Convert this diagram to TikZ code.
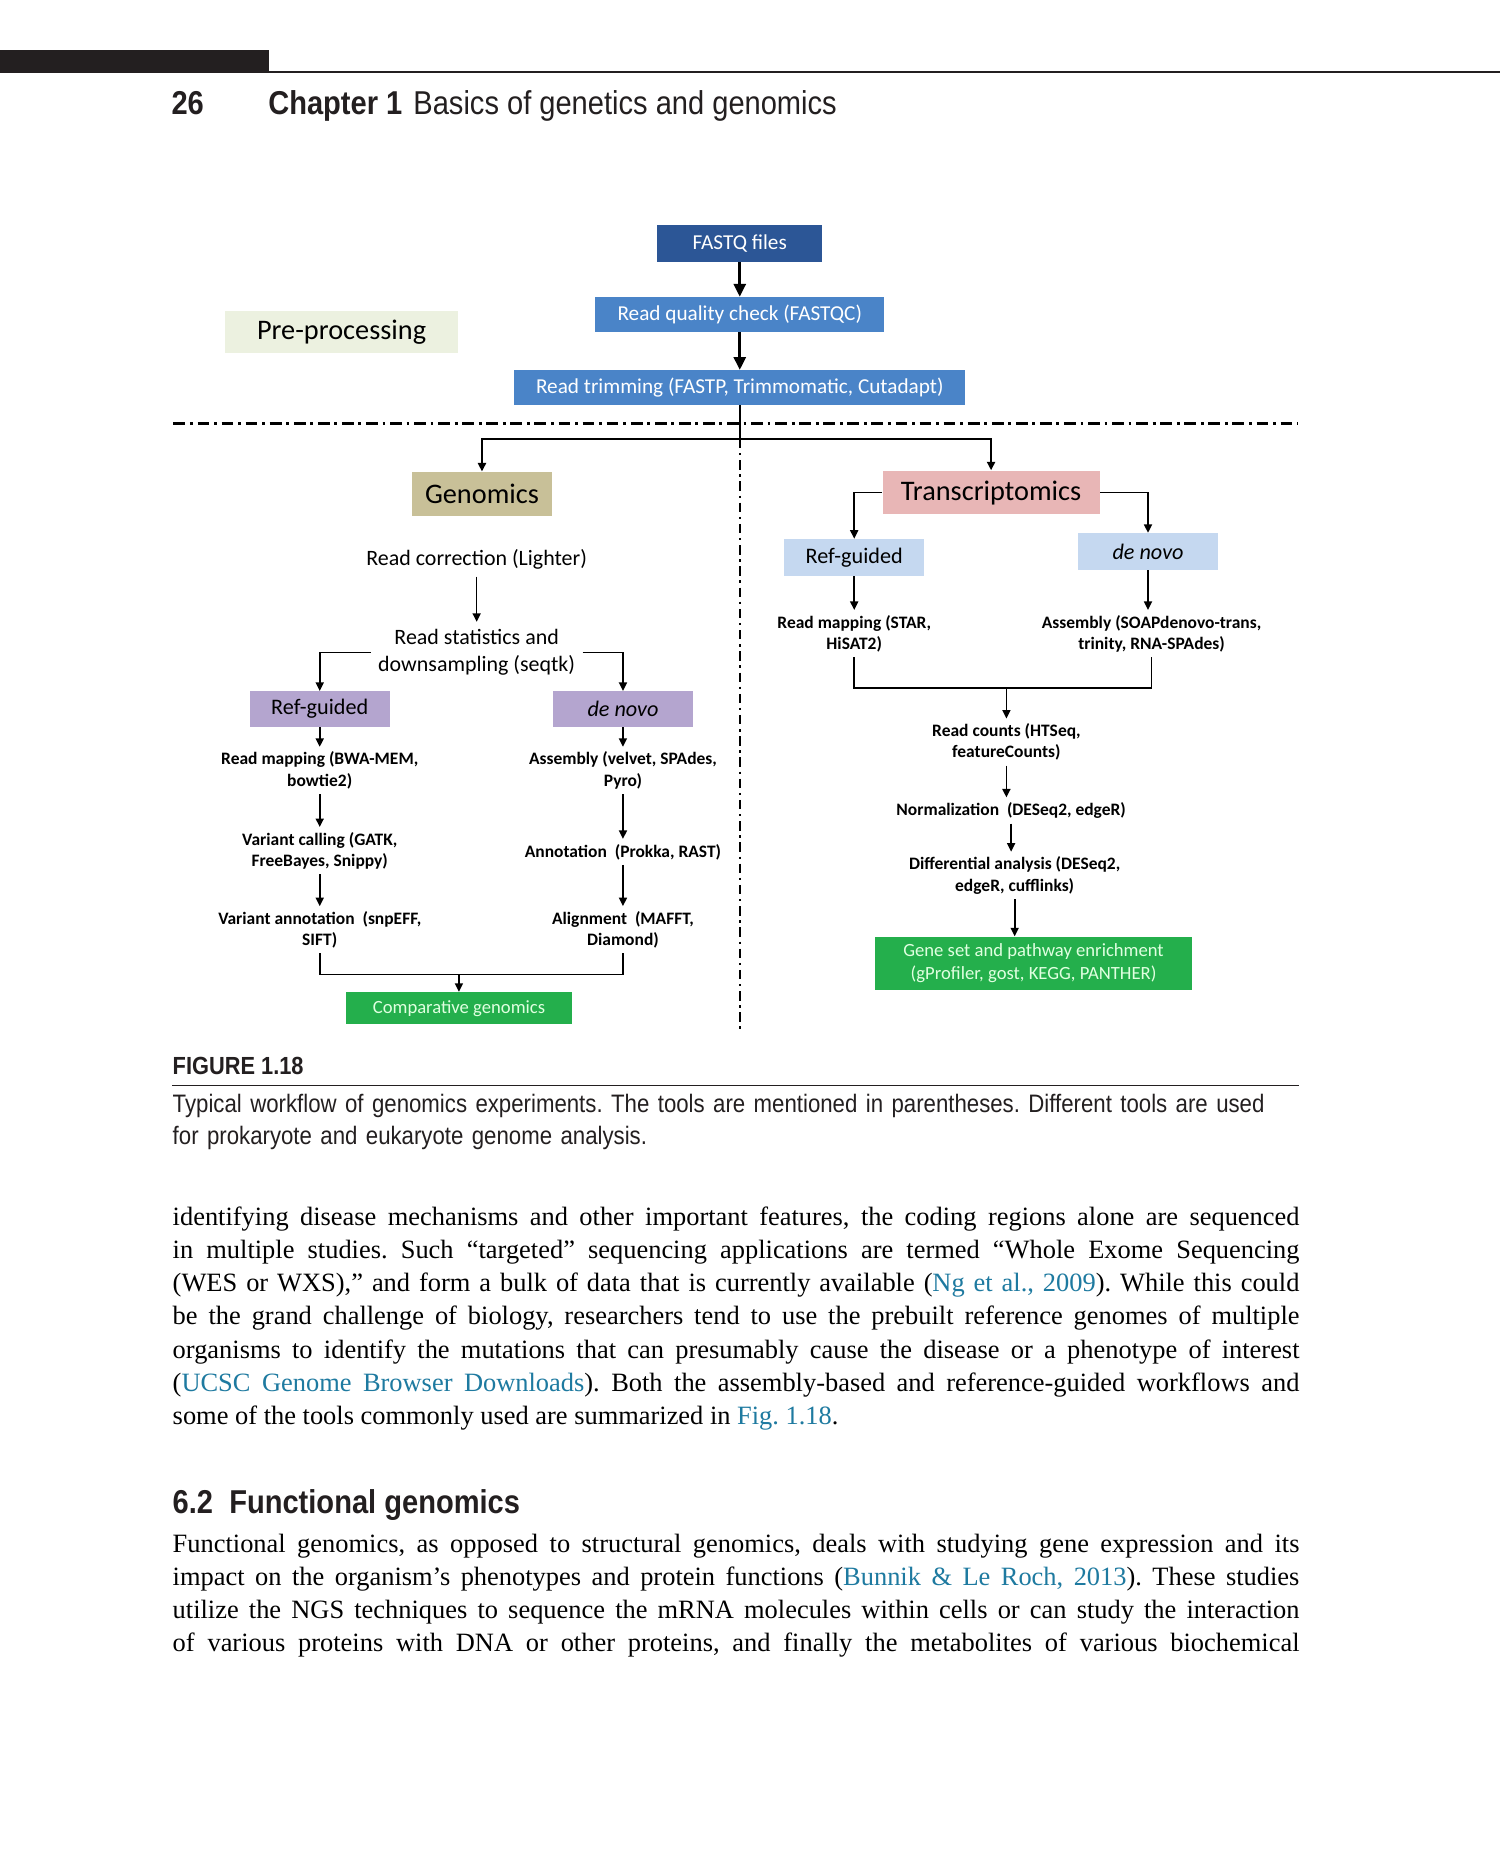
\documentclass[tikz,border=0pt]{standalone}
\usepackage{fontspec}
\setmainfont{Liberation Serif}
\newfontfamily\figfont{Carlito}
\newfontfamily\headfont[FakeStretch=0.88]{Liberation Sans}
\usetikzlibrary{arrows.meta, calc}
\frenchspacing

\definecolor{fastqblue}{RGB}{44,86,150}
\definecolor{readblue}{RGB}{74,132,200}
\definecolor{preback}{RGB}{236,241,224}
\definecolor{genomicstan}{RGB}{200,192,152}
\definecolor{transpink}{RGB}{232,182,182}
\definecolor{routepurple}{RGB}{180,165,207}
\definecolor{routeblue}{RGB}{197,216,240}
\definecolor{endgreen}{RGB}{36,175,76}
\definecolor{linkblue}{RGB}{30,122,160}
\definecolor{inkgray}{RGB}{35,31,32}

\newcommand{\reflink}[1]{\textcolor{linkblue}{#1}}

\tikzset{
  box/.style = {
    inner sep=0pt,
    align=center,
    font=\figfont\fontsize{9}{11}\selectfont,
  },
  fastqbox/.style = {
    box,
    fill=fastqblue,
    text=white,
    minimum width=70pt,
    minimum height=15.5pt,
  },
  readbox/.style = {
    box,
    fill=readblue,
    text=white,
    minimum height=14.5pt,
  },
  prebox/.style = {
    box,
    fill=preback,
    minimum width=98.5pt,
    minimum height=17.5pt,
    font=\figfont\fontsize{12}{14}\selectfont,
  },
  omicsbox/.style = {
    box,
    minimum height=18.5pt,
    font=\figfont\fontsize{12}{14}\selectfont,
  },
  routebox/.style = {
    box,
    minimum width=59.5pt,
    minimum height=15pt,
    font=\figfont\fontsize{9.4}{11}\selectfont,
  },
  endbox/.style = {
    box,
    fill=endgreen,
    text=white!80!green!60!white,
    font=\figfont\fontsize{7.9}{9.6}\selectfont,
  },
  task/.style = {
    align=center,
    inner sep=2pt,
    font=\figfont\bfseries\fontsize{7.4}{9}\selectfont,
  },
  bigtask/.style = {
    align=center,
    inner sep=3pt,
    font=\figfont\fontsize{9.3}{11.5}\selectfont,
  },
  link/.style = {
    line width=0.7pt,
  },
  flow/.style = {
    -{Triangle[length=3.6pt, width=3.4pt]},
    line width=0.7pt,
  },
  bigflow/.style = {
    -{Triangle[length=5.5pt, width=5pt]},
    line width=1.4pt,
  },
  sepline/.style = {
    line width=1.2pt,
    dash pattern=on 5pt off 2pt on 1.2pt off 2pt,
  },
  vsep/.style = {
    line width=0.7pt,
    dash pattern=on 4pt off 2pt on 1pt off 2pt,
  },
  headtext/.style = {
    anchor=base west,
    inner sep=0pt,
    text=inkgray,
  },
  bodytext/.style = {
    headtext,
    text=black,
    text width=477.5pt,
    align=justify,
    font=\fontsize{11.2}{14}\selectfont,
  },
}

\begin{document}
\begin{tikzpicture}[x=0.5pt, y=-0.5pt]

\fill[white] (0,0) rectangle (1271,1568);

% running head
\fill[inkgray] (0,42) rectangle (228,62);
\draw[inkgray, line width=1pt] (228,61) -- (1271,61);
\node[headtext, font=\headfont\bfseries\fontsize{14}{16}\selectfont] (pagenum) at (145,97) {26};
\node[headtext, font=\headfont\bfseries\fontsize{14}{16}\selectfont] (chapter) at (227,97) {Chapter 1};
\node[headtext, font=\headfont\fontsize{14}{16}\selectfont] (runhead) at (350,97) {Basics of genetics and genomics};

% pre-processing
\node[fastqbox] (fastq) at (627,206.5) {FASTQ files};
\node[readbox, minimum width=122.5pt] (qc) at (627,266.5) {Read quality check (FASTQC)};
\node[readbox, minimum width=191pt] (trim) at (627,328.5) {Read trimming (FASTP, Trimmomatic, Cutadapt)};
\node[prebox] (pre) at (289.5,281.5) {Pre-processing};

\draw[bigflow] (fastq) -- (qc);
\draw[bigflow] (qc) -- (trim);

\coordinate (sepL) at (147,359);
\coordinate (sepR) at (1100,359);
\draw[sepline] (sepL) -- (sepR);

\coordinate (split) at (627,372);
\coordinate (divend) at (627,873);
\draw[vsep] (split) -- (divend);

\node[omicsbox, fill=genomicstan, minimum width=59.5pt] (genomics) at (408.5,418.5) {Genomics};
\node[omicsbox, fill=transpink, minimum width=92pt] (transcriptomics) at (840,417.5) {Transcriptomics};

\draw[link, line width=1pt] (trim) -- (split);
\draw[flow, line width=1pt] (split) -| (genomics);
\draw[flow, line width=1pt] (split) -| (transcriptomics);

% genomics branch
\node[bigtask] (corr) at (404,474) {Read correction (Lighter)};
\node[bigtask] (stats) at (404,553) {Read statistics and\\downsampling (seqtk)};
\draw[flow] (corr) -- (stats);

\node[routebox, fill=routepurple] (gref) at (271,601) {Ref-guided};
\node[routebox, fill=routepurple] (gdenovo) at (528,601) {\itshape de novo};
\draw[flow] (stats.west) -| (gref);
\draw[flow] (stats.east) -| (gdenovo);

\node[task] (gmap) at (271,653) {Read mapping (BWA-MEM,\\bowtie2)};
\node[task] (gcall) at (271,721) {Variant calling (GATK,\\FreeBayes, Snippy)};
\node[task] (gvann) at (271,788) {Variant annotation\ \ (snpEFF,\\SIFT)};
\draw[flow] (gref) -- (gmap);
\draw[flow] (gmap) -- (gcall);
\draw[flow] (gcall) -- (gvann);

\node[task] (gasm) at (528,653) {Assembly (velvet, SPAdes,\\Pyro)};
\node[task] (gannot) at (528,722) {Annotation\ \ (Prokka, RAST)};
\node[task] (galign) at (528,788) {Alignment\ \ (MAFFT,\\Diamond)};
\draw[flow] (gdenovo) -- (gasm);
\draw[flow] (gasm) -- (gannot);
\draw[flow] (gannot) -- (galign);

\node[endbox, minimum width=95.5pt, minimum height=13.5pt] (comp) at (389,854.5) {Comparative genomics};
\coordinate (gmerge) at (389,826);
\draw[link] (gvann) |- (gmerge) -| (galign);
\draw[flow] (gmerge) -- (comp);

% transcriptomics branch
\node[routebox, fill=routeblue, minimum height=15.5pt] (tref) at (724,472.5) {Ref-guided};
\node[routebox, fill=routeblue, minimum height=15.5pt] (tdenovo) at (973,467.5) {\itshape de novo};
\draw[flow] (transcriptomics.west) -| (tref);
\draw[flow] (transcriptomics.east) -| (tdenovo);

\node[task] (tmap) at (724,537) {Read mapping (STAR,\\HiSAT2)};
\node[task] (tasm) at (976,537) {Assembly (SOAPdenovo-trans,\\trinity, RNA-SPAdes)};
\draw[flow] (tref) -- (tmap);
\draw[flow] (tdenovo) -- (tdenovo |- tasm.north);

\coordinate (tmerge) at (853,583);
\draw[link] (tmap) |- (tmerge) -| (tasm);

\node[task] (counts) at (853,629) {Read counts (HTSeq,\\featureCounts)};
\node[task] (norm) at (857,687) {Normalization\ \ (DESeq2, edgeR)};
\node[task] (diff) at (860,742) {Differential analysis (DESeq2,\\edgeR, cufflinks)};
\node[endbox, minimum width=134pt, minimum height=22.5pt] (gsea) at (876,816.5) {Gene set and pathway enrichment\\(gProfiler, gost, KEGG, PANTHER)};
\draw[flow] (tmerge) -- (counts);
\draw[flow] (counts) -- (counts |- norm.north);
\draw[flow] (norm) -- (norm |- diff.north);
\draw[flow] (diff) -- (diff |- gsea.north);

% caption
\node[headtext, font=\headfont\bfseries\fontsize{10.5}{12}\selectfont] (figlabel) at (146,911) {FIGURE 1.18};
\coordinate (ruleL) at (146,920);
\coordinate (ruleR) at (1101,920);
\draw[inkgray, line width=0.8pt] (ruleL) -- (ruleR);
\node[headtext, text width=500pt, align=left, font=\headfont\fontsize{10.7}{13.5}\selectfont] (caption) at (146,943)
  {Typical workflow of genomics experiments. The tools are mentioned in parentheses. Different tools are used\\
   for prokaryote and eukaryote genome analysis.};

% body text
\node[bodytext] (para1) at (146,1039)
  {identifying disease mechanisms and other important features, the coding regions alone are sequenced\linebreak
   in multiple studies. Such “targeted” sequencing applications are termed “Whole Exome Sequencing\linebreak
   (WES or WXS),” and form a bulk of data that is currently available (\reflink{Ng et al., 2009}). While this could\linebreak
   be the grand challenge of biology, researchers tend to use the prebuilt reference genomes of multiple\linebreak
   organisms to identify the mutations that can presumably cause the disease or a phenotype of interest\linebreak
   (\reflink{UCSC Genome Browser Downloads}). Both the assembly-based and reference-guided workflows and\linebreak
   some of the tools commonly used are summarized in \reflink{Fig. 1.18}.};

\node[headtext, font=\headfont\bfseries\fontsize{14}{16}\selectfont] (section) at (146,1283) {6.2\ \ Functional genomics};

\node[bodytext] (para2) at (146,1316)
  {Functional genomics, as opposed to structural genomics, deals with studying gene expression and its\linebreak
   impact on the organism’s phenotypes and protein functions (\reflink{Bunnik \& Le Roch, 2013}). These studies\linebreak
   utilize the NGS techniques to sequence the mRNA molecules within cells or can study the interaction\linebreak
   of various proteins with DNA or other proteins, and finally the metabolites of various biochemical\parfillskip=0pt\par};

\end{tikzpicture}
\end{document}
